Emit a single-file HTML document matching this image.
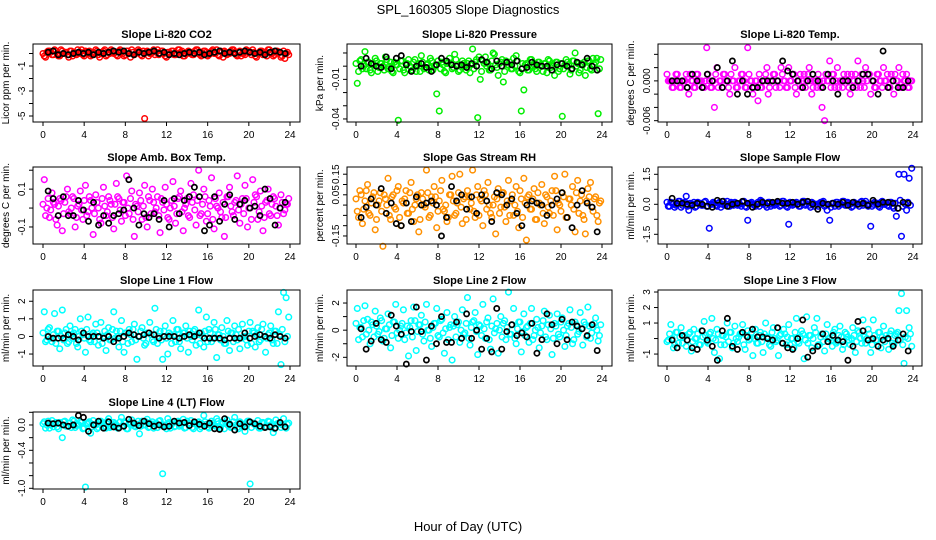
<!DOCTYPE html>
<html><head><meta charset="utf-8"><style>
html,body{margin:0;padding:0;background:#fff;}
svg{display:block;font-family:"Liberation Sans",Arial,sans-serif;}
</style></head><body>
<svg id="chart" width="936" height="540" viewBox="0 0 936 540">
<rect width="936" height="540" fill="#fff"/>
<text x="468" y="14" font-size="13" text-anchor="middle">SPL_160305  Slope Diagnostics</text>
<text x="468" y="531" font-size="13" text-anchor="middle">Hour of Day (UTC)</text>
</svg>
<script>
const xTicks = [0,4,8,12,16,20,24];
const c1 = [-0.2,0.1,0.2,-0.1,0.3,0.0,-0.2,0.2,0.1,-0.1,0.2,-0.2,0.0,0.3,0.1,-0.1,0.2,0.0,-0.2,0.1,0.3,-0.1,0.0,0.2,-0.2,0.1,0.3,0.0,-0.1,0.2,0.1,-0.2,0.2,0.0,0.3,-0.1,0.1,0.2,-0.2,-5.2,0.2,0.0,0.1,-0.1,0.3,0.0,0.2,-0.2,0.1,0.0,0.2,-0.1,0.3,0.1,-0.2,0.0,0.2,0.1,-0.1,0.3,0.0,-0.2,0.2,0.1,-0.1,0.2,0.0,0.3,-0.2,0.1,0.2,-0.1,0.0,0.3,0.1,-0.2,0.2,0.0,-0.1,0.2,0.1,0.3,-0.2,0.0,0.2,-0.1,0.1,0.3,0.0,-0.2,0.2,0.1,-0.3,0.2,0.0,-0.1];
const d1 = [0.0,-0.3,0.2,0.1,-0.1,0.2,-0.2,0.3,0.0,0.1,-0.3,0.2,0.1,-0.1,0.0,0.3,-0.2,0.1,0.2,-0.1,0.0,0.2,-0.3,0.1,0.3,-0.1,0.0,0.2,0.1,-0.2,0.3,0.0,-0.1,0.2,-0.3,0.1,0.0,0.3,-0.1,0.2,0.1,-0.2,0.0,0.3,0.1,-0.1,0.2,0.0,-0.3,0.1,0.2,-0.1,0.0,0.3,0.2,-0.2,0.1,0.0,-0.1,0.2,0.3,-0.1,0.0,0.2,-0.2,0.1,0.3,0.0,-0.1,0.2,-0.3,0.1,0.0,0.2,0.3,-0.1,0.1,-0.2,0.0,0.3,0.2,-0.1,0.1,-0.3,0.0,0.2,0.1,-0.2,0.3,0.0,-0.1,0.2,0.1,-0.2,-0.4,0.1];
const b1 = [0.1,0.2,-0.1,0.0,-0.1,0.0,0.1,0.0,0.1,-0.1,0.1,0.0,0.1,0.2,0.1,0.2,0.0,-0.1,0.1,0.0,0.1,0.2,0.0,0.1,-0.1,0.0,-0.1,0.0,0.1,0.0,0.1,-0.1,0.0,0.1,0.2,0.0,0.1,0.0,0.1,0.2,0.1,0.0,0.1,-0.1,0.1,0.2,0.1,0.0];
const c2 = [-0.013,0.004,-0.002,0.011,0.003,-0.003,0.001,0.006,-0.004,0.002,0.000,0.007,-0.002,0.003,-0.005,0.001,-0.041,0.004,-0.003,0.002,0.005,-0.001,0.003,-0.004,0.002,0.008,-0.002,0.001,-0.003,0.004,0.000,-0.021,-0.034,0.003,-0.004,0.002,0.006,-0.002,0.009,0.001,-0.003,0.004,0.000,0.002,-0.005,0.013,0.003,-0.039,-0.010,0.004,0.007,0.002,-0.003,0.010,0.001,-0.007,0.003,-0.012,0.004,0.001,-0.002,0.006,0.008,-0.004,-0.034,-0.018,0.002,-0.003,0.005,0.001,-0.004,0.003,0.000,0.002,-0.005,0.004,0.001,-0.007,0.003,-0.002,-0.038,0.001,0.003,-0.006,0.004,0.010,0.002,-0.003,0.001,-0.007,0.004,-0.002,0.006,0.003,-0.036,0.005];
const d2 = [0.002,-0.004,0.005,0.000,-0.002,0.003,-0.005,0.001,0.004,-0.001,0.002,-0.003,0.005,0.000,-0.004,0.003,0.001,-0.002,0.004,-0.005,0.002,0.000,-0.003,0.005,0.001,-0.004,0.003,-0.001,0.002,0.006,-0.003,0.000,0.004,-0.002,0.001,-0.005,0.003,0.002,-0.001,0.005,-0.004,0.000,0.002,-0.003,0.004,0.001,-0.002,0.005,0.007,-0.004,0.002,0.000,-0.003,0.004,0.009,-0.001,0.002,0.005,-0.004,0.001,0.003,-0.002,0.000,0.004,-0.005,0.002,0.001,-0.003,0.005,0.000,-0.002,0.003,0.001,-0.004,0.002,0.005,-0.001,0.000,0.003,-0.004,0.002,-0.002,0.005,0.001,-0.003,0.004,0.000,-0.005,0.002,0.003,-0.001,0.004,-0.003,0.001,0.006,-0.002];
const b2 = [0.000,0.006,0.002,0.000,-0.001,0.007,-0.002,0.006,0.008,0.001,-0.004,0.000,0.002,-0.001,-0.004,0.001,0.006,0.004,0.001,0.000,0.001,-0.001,0.002,0.000,0.005,0.003,-0.002,0.004,0.000,0.003,0.001,0.004,-0.002,-0.001,0.003,0.001,0.000,0.000,-0.003,0.001,0.002,0.000,-0.002,0.003,0.001,0.006,0.000,-0.003];
const c3 = [0,0,-0.001,0.001,0,-0.001,0,0.001,-0.002,0,-0.001,0.001,0,0,-0.001,0.005,0,-0.001,-0.004,0.002,0,-0.001,0.001,0,-0.002,0,0.002,-0.001,0,0.001,-0.001,0.005,0,-0.002,0,-0.003,-0.001,0,0.001,-0.002,0,0.001,-0.001,0,0.002,0,-0.001,0.002,0,0.001,-0.002,0,-0.001,0.001,0,0.002,-0.002,0,-0.001,0,-0.004,-0.006,0,0.003,0.001,-0.001,0.002,0,-0.001,0,0.001,-0.002,0,0.001,0.003,-0.001,0,0.002,0.001,-0.002,0,-0.001,0.001,0,0.002,0,-0.001,0.001,-0.002,0,0.002,-0.001,0,0.001,-0.001,0];
const d3 = [0.001,0,-0.001,0,0.001,-0.001,0,0,-0.001,0.001,0,-0.001,0.001,0,-0.001,0,0.001,-0.001,0,0.001,-0.001,0,0.001,0,-0.001,0.001,0,-0.001,0,0.001,0,-0.001,0.001,0,-0.001,0,0.001,-0.001,0,0.002,-0.001,0,0.001,0,-0.001,0.001,0,-0.001,0,0.001,-0.001,0,0.001,0,-0.001,0.001,0,-0.001,0,0.001,-0.001,0,0.001,0,-0.001,0.001,0,-0.001,0,0.001,0,-0.001,0.001,0,-0.001,0,0.001,-0.001,0,0.001,0,-0.001,0.001,0,-0.001,0,0.001,-0.001,0,0.001,0,-0.001,0.001,0,-0.001,0];
const b3 = [0,0,0,-0.001,0.001,0,-0.001,0.001,0,0.002,-0.001,0,0.003,-0.002,0,-0.002,-0.001,-0.001,0,0,0,0,0.003,0.0015,0.001,0,-0.001,0,0.001,0,-0.001,0.001,0,-0.002,0,0,-0.001,0,0.001,0.001,0,-0.002,0.0045,-0.001,0,-0.001,-0.001,0];
const c4 = [0.15,0.0,-0.05,0.08,0.02,-0.09,0.05,-0.12,0.03,0.1,-0.03,0.06,-0.1,0.01,0.09,-0.06,0.12,-0.02,0.04,-0.14,0.07,0.0,-0.08,0.11,-0.04,0.06,0.02,-0.11,0.13,0.05,-0.07,0.03,0.17,-0.03,0.09,-0.15,0.01,0.08,-0.06,0.12,-0.1,0.04,0.1,-0.02,0.06,-0.13,0.03,0.11,-0.05,0.0,0.14,-0.08,0.05,0.09,-0.12,0.02,-0.04,0.13,0.07,-0.09,0.2,-0.03,0.1,-0.07,0.04,0.16,-0.11,0.01,0.08,-0.05,-0.15,0.06,0.11,-0.02,0.03,0.17,-0.08,0.05,0.12,-0.1,0.0,0.15,0.07,-0.06,0.09,-0.12,0.03,0.1,-0.04,0.06,0.01,-0.09,0.07,-0.03,0.02,0.05];
const d4 = [0.02,-0.04,0.05,-0.01,0.03,-0.06,0.01,0.04,-0.03,0.06,-0.02,0.0,0.05,-0.05,0.02,-0.01,0.04,-0.04,0.06,0.0,-0.03,0.03,-0.06,0.05,0.01,-0.02,0.04,-0.05,0.02,0.06,-0.01,0.03,-0.04,0.0,0.05,-0.06,0.02,-0.02,0.04,0.01,-0.05,0.06,-0.03,0.03,0.0,-0.04,0.05,-0.01,0.02,-0.06,0.04,0.01,-0.03,0.06,-0.02,0.0,0.05,-0.05,0.03,-0.01,0.04,-0.04,0.02,0.06,-0.03,0.01,-0.06,0.05,0.0,-0.02,0.03,-0.05,0.06,0.01,-0.04,0.04,-0.01,0.02,-0.03,0.05,0.0,-0.06,0.03,0.06,-0.02,0.01,-0.05,0.04,-0.03,0.02,0.05,-0.04,0.0,0.03,-0.01,0.02];
const b4 = [0.09,0.05,-0.04,0.06,-0.04,-0.04,0.04,-0.01,-0.07,0.03,-0.09,-0.04,-0.08,-0.04,-0.03,-0.01,0.15,0.0,-0.09,-0.03,-0.05,-0.03,-0.06,0.04,-0.1,0.05,-0.03,0.04,0.06,0.11,0.06,-0.12,-0.09,0.06,-0.07,0.02,0.07,-0.06,0.02,0.04,0.0,0.01,-0.04,0.1,0.05,-0.09,0.0,0.03];
const c5 = [-0.03,0.07,-0.09,0.02,0.1,-0.05,0.04,-0.12,0.0,0.06,-0.2,0.03,0.13,-0.07,0.05,-0.02,0.09,-0.1,0.01,0.07,-0.04,0.11,-0.08,0.03,-0.13,0.06,0.0,0.17,-0.06,0.04,0.09,-0.11,0.02,0.12,-0.03,-0.08,0.05,0.14,-0.05,0.01,0.15,-0.09,0.04,0.07,-0.02,0.17,-0.06,0.09,0.03,-0.1,0.05,0.11,-0.04,0.0,-0.14,0.08,-0.01,0.06,-0.08,0.12,0.02,-0.05,0.09,-0.11,0.03,0.13,-0.17,0.05,-0.02,0.08,-0.07,0.01,0.1,-0.09,0.04,-0.04,0.07,0.14,-0.12,0.0,0.06,0.15,-0.06,0.03,0.09,-0.13,0.12,0.02,-0.05,-0.14,0.08,0.11,-0.03,0.04,-0.08,0.02];
const d5 = [0.03,-0.06,0.05,-0.02,0.07,-0.04,0.01,0.06,-0.07,0.02,-0.03,0.05,0.0,-0.05,0.04,-0.01,0.07,-0.06,0.02,0.03,-0.04,0.06,-0.02,0.0,0.05,-0.07,0.03,-0.01,0.06,-0.05,0.01,0.04,-0.03,0.07,-0.02,0.0,-0.06,0.05,0.02,-0.04,0.06,-0.01,0.03,-0.07,0.04,0.01,-0.03,0.05,-0.05,0.02,0.07,-0.02,0.0,-0.06,0.04,0.03,-0.04,0.06,-0.01,0.02,-0.05,0.05,0.0,-0.03,0.07,-0.06,0.01,0.04,-0.02,0.03,-0.07,0.06,0.0,-0.04,0.05,-0.01,0.02,-0.05,0.07,0.01,-0.03,0.04,-0.06,0.03,0.0,-0.02,0.06,-0.04,0.05,-0.07,0.02,0.04,-0.01,0.03,-0.05,0.01];
const b5 = [-0.06,-0.01,0.03,0.0,0.08,-0.04,0.01,-0.09,-0.1,0.01,-0.08,0.04,0.0,0.01,0.02,0.0,-0.15,-0.06,0.09,0.02,0.05,-0.02,0.04,-0.04,0.05,0.02,-0.08,0.06,0.05,0.0,0.03,-0.04,-0.1,0.0,0.02,0.01,0.0,-0.05,0.0,0.03,0.06,-0.06,-0.11,0.0,0.07,0.01,-0.01,-0.13];
const c6 = [-0.1,0.1,0.0,-0.05,0.15,-0.15,0.05,0.4,-0.3,0.0,0.1,-0.1,0.05,-0.05,0.1,-0.1,-1.2,0.0,0.05,-0.1,0.1,0.0,-0.05,0.15,-0.1,0.05,0.1,-0.05,0.0,0.1,-0.1,-0.8,0.05,0.0,-0.1,0.1,0.2,0.0,-0.05,0.1,-0.1,0.05,0.0,0.1,-0.05,0.15,-0.1,-1.0,0.05,0.0,0.1,-0.1,0.05,0.15,0.0,-0.05,0.1,-0.1,0.0,0.05,0.1,-0.1,-0.3,-0.8,0.05,-0.1,0.1,0.0,0.15,-0.05,0.1,0.0,-0.1,0.05,0.0,0.1,-0.05,0.15,-0.1,-1.1,0.0,0.05,-0.1,0.1,0.0,0.05,-0.1,0.1,-0.2,-0.6,1.5,-1.6,1.5,-0.3,1.3,1.8];
const d6 = [0.1,-0.1,0.05,-0.15,0.0,0.15,-0.05,0.1,-0.1,0.05,0.0,-0.15,0.1,0.05,-0.05,0.15,-0.1,0.0,0.1,-0.05,0.05,-0.15,0.15,0.0,-0.1,0.1,-0.05,0.05,0.0,-0.1,0.15,-0.15,0.05,0.1,-0.05,0.0,-0.1,0.15,0.05,-0.15,0.1,0.0,-0.05,0.05,-0.1,0.15,0.0,-0.15,0.1,-0.05,0.05,0.0,-0.1,0.15,-0.05,0.1,-0.15,0.05,0.0,-0.1,0.1,0.15,-0.05,0.0,-0.15,0.05,0.1,-0.1,0.0,0.15,-0.05,0.05,-0.15,0.1,0.0,-0.1,0.15,0.05,-0.05,0.0,-0.1,0.1,0.05,-0.15,0.15,0.0,-0.05,0.1,-0.1,0.05,-0.2,0.2,-0.1,0.0,0.1,-0.05];
const b6 = [0.3,0.05,0.05,0.0,-0.05,0.05,0.0,-0.1,-0.15,0.2,0.15,-0.1,0.0,0.05,0.15,0.05,-0.15,0.0,0.1,0.05,0.1,0.15,0.05,0.05,0.1,0.0,0.1,0.15,0.0,-0.25,0.05,0.0,0.05,0.0,0.1,-0.05,0.1,0.0,0.05,-0.05,0.2,0.0,0.1,0.1,0.05,-0.2,0.1,0.05];
const c7 = [1.4,-0.2,0.5,-0.3,1.3,0.3,-0.7,1.5,0.2,-0.4,0.6,-0.1,0.4,-0.6,1.0,0.1,-0.9,1.1,-0.3,0.2,0.7,-0.5,0.8,0.0,-0.8,0.5,-0.2,1.4,0.3,-0.6,0.9,-0.9,0.2,0.4,-0.3,0.7,-1.3,0.0,0.5,-0.5,0.2,0.8,-0.2,1.6,-0.4,0.3,-1.3,0.6,-1.0,0.1,0.9,-0.3,0.4,-0.7,0.2,0.6,-0.9,0.0,0.3,-0.5,1.5,0.2,-0.6,1.1,0.4,-0.3,0.8,-1.2,0.1,0.5,-0.4,0.9,-0.8,0.2,0.6,-0.2,-0.7,0.7,0.0,-0.5,0.8,0.3,-0.6,0.5,-0.2,0.7,-0.9,0.1,0.6,-0.4,0.3,1.4,-1.6,2.5,2.2,1.1];
const d7 = [0.2,-0.3,0.4,-0.1,0.1,-0.4,0.3,0.0,-0.2,0.4,-0.3,0.1,0.2,-0.4,0.0,0.3,-0.1,0.4,-0.2,0.1,-0.3,0.2,0.0,-0.4,0.3,0.1,-0.2,0.4,-0.1,0.0,0.3,-0.3,0.2,-0.4,0.1,0.4,-0.2,0.0,0.3,-0.1,-0.4,0.2,0.1,-0.3,0.4,0.0,-0.2,0.3,-0.1,0.2,-0.4,0.1,0.4,-0.3,0.0,0.2,-0.1,0.3,-0.2,0.4,0.1,-0.4,0.0,0.3,-0.3,0.2,-0.1,0.4,0.1,-0.2,0.0,-0.4,0.3,0.2,-0.3,0.1,0.4,-0.1,0.0,-0.2,0.3,-0.4,0.2,0.1,-0.3,0.4,0.0,-0.1,0.2,-0.2,0.3,-0.4,0.1,0.4,-0.3,0.0];
const b7 = [0.0,-0.1,-0.1,-0.1,0.1,0.0,-0.2,0.2,0.0,0.0,0.0,-0.1,0.0,-0.3,-0.1,0.0,0.2,0.1,0.0,0.1,0.2,0.1,-0.1,0.0,0.0,0.0,-0.1,0.0,0.1,0.0,0.2,-0.1,-0.1,-0.1,-0.1,-0.2,-0.1,-0.1,-0.1,0.2,-0.1,0.0,0.1,0.0,-0.1,0.1,0.0,-0.1];
const c8 = [1.6,0.2,-0.5,1.8,0.8,-1.0,0.4,1.4,-0.3,0.9,-0.8,0.1,1.2,-1.3,0.6,1.9,-0.6,0.3,1.5,-0.2,-1.9,0.7,1.7,-1.5,0.4,1.1,-0.8,1.9,0.0,-1.2,0.5,1.6,-0.5,0.8,-1.7,1.3,0.2,-2.2,1.0,0.4,-0.9,1.5,-0.2,2.4,-1.1,0.6,1.3,-1.8,0.3,1.9,-0.6,0.9,-1.4,2.3,0.1,-1.7,1.0,0.5,-0.7,2.8,-0.3,1.6,-1.0,0.6,-1.6,1.2,0.2,-0.9,1.6,-0.4,0.8,-1.3,0.3,1.4,-0.7,1.1,-1.8,0.5,1.2,-0.5,0.9,-1.2,0.3,1.5,-1.0,0.6,-0.3,1.3,-1.1,0.4,1.7,-0.6,0.2,0.9,-0.8,0.4];
const d8 = [0.5,-0.7,0.2,0.7,-0.3,0.0,0.6,-0.5,0.3,-0.1,0.7,-0.6,0.1,0.4,-0.4,0.6,-0.2,0.0,0.5,-0.7,0.3,0.2,-0.5,0.7,-0.1,0.4,-0.3,0.6,0.0,-0.6,0.2,0.5,-0.4,0.7,-0.2,0.1,-0.7,0.4,0.3,-0.5,0.6,0.0,-0.3,0.5,-0.6,0.2,0.7,-0.1,0.4,-0.4,0.1,0.6,-0.7,0.3,-0.2,0.5,0.0,-0.5,0.7,0.2,-0.3,0.4,-0.6,0.1,0.6,-0.1,-0.4,0.3,0.5,-0.7,0.0,0.2,-0.2,0.7,-0.5,0.4,0.1,-0.6,0.3,-0.3,0.6,0.0,-0.4,0.5,0.2,-0.7,0.4,-0.1,0.1,0.6,-0.5,0.3,-0.2,0.5,0.0,-0.4];
const b8 = [0.1,-1.4,-0.8,0.5,-0.7,-0.9,1.1,0.3,-0.3,-2.5,-0.1,1.7,-0.1,-2.2,0.3,-1.0,1.0,-0.9,-0.9,0.6,-0.6,1.2,-0.6,0.0,-1.4,-0.6,-1.6,1.6,-1.4,-0.1,0.4,-0.4,-0.2,-0.5,0.5,-1.7,-0.7,1.2,0.4,-1.0,0.8,-0.7,0.6,0.3,0.1,-0.4,0.4,-1.5];
const c9 = [-0.1,0.9,-0.6,0.4,-0.3,0.7,0.1,-0.5,0.3,-0.8,0.6,0.0,-0.4,0.5,1.1,-0.2,0.3,1.3,-0.9,0.6,-1.3,0.2,-0.4,1.0,0.4,-0.6,0.8,-0.2,0.3,0.9,-0.7,0.5,0.0,-1.1,0.6,-0.3,0.4,-0.9,1.0,0.1,-0.5,0.7,-0.2,-1.1,0.3,0.6,-0.4,0.9,0.0,-0.6,1.3,-0.3,0.5,-1.3,1.4,0.2,-0.6,0.7,1.3,-0.4,0.3,-0.8,0.9,0.0,-0.5,0.6,-0.2,0.8,-0.7,0.4,0.1,-0.4,0.7,-0.9,0.5,0.0,1.2,-0.3,0.6,-0.9,1.2,-0.1,0.4,-0.6,0.8,0.2,-0.7,0.5,-0.4,0.3,1.8,2.9,-1.6,1.8,0.7,-0.5];
const d9 = [-0.2,0.3,0.0,-0.4,0.4,0.1,-0.3,0.2,-0.1,0.4,-0.2,0.0,0.3,-0.4,0.1,0.2,-0.3,0.4,0.0,-0.1,0.3,-0.4,0.2,0.1,-0.2,0.4,-0.3,0.0,0.1,0.3,-0.4,0.2,-0.1,0.4,0.0,-0.3,0.2,-0.2,0.3,0.1,-0.4,0.4,0.0,-0.1,0.2,-0.3,0.3,0.1,-0.4,0.0,0.4,-0.2,0.1,0.3,-0.1,-0.3,0.2,0.0,0.4,-0.4,0.1,-0.2,0.3,0.0,-0.1,0.4,-0.3,0.2,0.1,-0.4,0.3,-0.1,0.0,0.2,-0.2,0.4,-0.3,0.1,0.0,0.3,-0.4,0.2,-0.1,0.4,0.1,-0.2,0.0,0.3,-0.3,0.2,0.4,-0.1,-0.4,0.1,0.0,0.3];
const b9 = [-0.1,-0.6,0.2,-0.1,-0.6,-0.7,0.5,-0.1,-0.5,-1.4,0.5,1.3,-0.5,-0.7,0.4,0.1,0.6,0.1,0.1,0.0,-0.1,0.7,-0.3,-0.6,-0.7,0.0,1.2,-1.2,-0.8,-0.5,0.3,-0.2,0.2,-0.1,-0.2,-1.4,-0.5,1.1,0.5,-0.1,0.0,-0.5,-0.1,0.0,-0.5,-0.1,0.3,-0.8];
const c10 = [0.05,0.0,-0.05,0.07,0.02,-0.03,0.04,-0.2,0.06,-0.02,0.03,0.08,-0.04,0.01,0.05,-0.06,-0.98,0.03,-0.13,0.07,0.0,-0.04,0.06,0.02,-0.05,0.1,-0.02,0.04,0.0,-0.03,0.12,0.05,-0.06,0.03,0.08,-0.02,0.01,-0.14,0.06,0.0,0.09,-0.03,0.05,0.02,-0.04,0.07,-0.77,0.0,0.1,-0.05,0.04,-0.02,0.06,0.0,0.09,-0.04,0.03,0.07,-0.06,0.02,0.05,-0.03,0.15,0.01,-0.05,0.06,0.0,0.1,-0.02,0.04,-0.06,0.08,0.02,-0.03,0.12,-0.04,0.05,0.0,-0.1,0.06,-0.93,0.03,0.0,0.07,-0.05,0.04,-0.03,0.06,0.0,-0.12,0.08,0.02,-0.04,0.1,-0.05,0.03];
const d10 = [0.02,-0.05,0.06,0.0,-0.03,0.04,-0.06,0.01,0.05,-0.02,0.03,-0.04,0.06,-0.01,0.0,0.04,-0.05,0.02,0.05,-0.03,0.01,-0.06,0.04,0.03,-0.02,0.06,-0.04,0.0,0.02,-0.05,0.05,-0.01,0.03,-0.06,0.04,0.01,-0.03,0.06,-0.02,0.0,0.05,-0.04,0.02,-0.05,0.03,0.06,-0.01,0.0,-0.06,0.04,0.01,-0.03,0.05,-0.02,0.03,-0.05,0.06,0.0,-0.04,0.02,0.04,-0.06,0.01,0.05,-0.03,0.0,0.03,-0.02,0.06,-0.05,0.02,0.04,-0.01,-0.04,0.05,0.0,-0.06,0.03,0.01,-0.02,0.06,-0.04,0.02,0.0,-0.05,0.04,0.03,-0.03,0.05,-0.01,-0.06,0.02,0.04,0.0,-0.03,0.01];
const b10 = [0.03,0.02,0.03,0.0,-0.02,0.0,0.15,0.12,-0.1,0.0,0.06,-0.05,0.05,-0.03,-0.05,-0.02,0.09,0.03,-0.01,0.06,0.02,-0.02,0.0,-0.03,-0.02,0.06,0.03,0.04,-0.01,0.05,0.01,-0.02,0.03,-0.06,-0.07,0.1,0.01,-0.08,0.02,-0.03,0.05,0.02,-0.02,-0.04,-0.03,-0.05,0.04,-0.03];

const titles = ["Slope Li-820 CO2","Slope Li-820 Pressure","Slope Li-820 Temp.","Slope Amb. Box Temp.","Slope Gas Stream RH","Slope Sample Flow","Slope Line 1 Flow","Slope Line 2 Flow","Slope Line 3 Flow","Slope Line 4 (LT) Flow"];
const yLabels = ["Licor ppm per min.","kPa per min.","degrees C per min.","degrees C per min.","percent per min.","ml/min per min.","ml/min per min.","ml/min per min.","ml/min per min.","ml/min per min."];
const yTicks = [[0,-1,-2,-3,-4,-5],[0.01,0,-0.01,-0.02,-0.03,-0.04],[0.004,0.002,0,-0.002,-0.004,-0.006],[0.2,0.1,0,-0.1],[0.15,0.1,0.05,0,-0.05,-0.1,-0.15],[1.5,0.75,0,-0.75,-1.5],[2,1,0,-1],[2,1,0,-1,-2],[3,2,1,0,-1],[0.2,0,-0.2,-0.4,-0.6,-0.8,-1.0]];
const yTickText = [["","-1","","-3","","-5"],["","","-0.01","","","-0.04"],["","","0.000","","","-0.006"],["","0.1","","-0.1"],["0.15","","0.05","","","","-0.15"],["1.5","","0.0","","-1.5"],["2","1","0","-1"],["2","","0","","-2"],["3","2","1","","-1"],["","0.0","","-0.4","","","-1.0"]];
const yRange = [[-5.48,0.76],[-0.0423,0.0168],[-0.0062,0.00556],[-0.19,0.217],[-0.189,0.185],[-1.985,1.865],[-1.68,2.64],[-2.64,2.96],[-1.77,3.13],[-1.011,0.205]];
const colors = ["#ff0000","#00ee00","#ff00ff","#ff00ff","#ff9000","#0000ff","#00ffff","#00ffff","#00ffff","#00ffff"];
const colSeries = [c1,c2,c3,c4,c5,c6,c7,c8,c9,c10];
const denseSeries = [d1,d2,d3,d4,d5,d6,d7,d8,d9,d10];
const blkSeries = [b1,b2,b3,b4,b5,b6,b7,b8,b9,b10];
const names = ["co2","pressure","li820-temp","box-temp","gas-rh","sample-flow","line1-flow","line2-flow","line3-flow","line4-flow"];

const NS = "http://www.w3.org/2000/svg";
const svg = document.getElementById("chart");
const colBox = [[33,300,43,290],[347,612,356,602],[658,922,667,913]];
const rowBox = [[44,122],[167,244],[290,366],[412,489]];
function mk(tag, attrs, parent){const e=document.createElementNS(NS,tag);for(const k in attrs)e.setAttribute(k,attrs[k]);parent.appendChild(e);return e;}

for (let p=0;p<10;p++){
  const col=p%3, row=Math.floor(p/3);
  const [L,R,X0,X24]=colBox[col]; const [T,B]=rowBox[row];
  const [ymin,ymax]=yRange[p];
  const xs = h => X0 + (h/24)*(X24-X0);
  const ys = v => B - (v-ymin)/(ymax-ymin)*(B-T);
  const g = mk("g",{},svg);
  
  
  const t = mk("text",{x:(L+R)/2,y:T-6,"font-size":11,"font-weight":"bold","text-anchor":"middle"},g);
  t.textContent = titles[p];
  
  
  const yl = mk("text",{x:0,y:0,"font-size":10,"text-anchor":"middle",transform:`translate(${L-24},${(T+B)/2}) rotate(-90)`},g);
  yl.textContent = yLabels[p];
  
  
  const ds = denseSeries[p], m = ds.length;
  for (let i=0;i<m;i++){
    const c = mk("circle",{cx:xs(i*24/m),cy:ys(ds[i]),r:2.8,fill:"none",stroke:colors[p],"stroke-width":1.5},g);
    
    
  }
  const cs = colSeries[p], n = cs.length;
  for (let i=0;i<n;i++){
    const c = mk("circle",{cx:xs((i+0.5)*24/n),cy:ys(cs[i]),r:2.8,fill:"none",stroke:colors[p],"stroke-width":1.5},g);
    
    
  }
  const bs = blkSeries[p];
  for (let i=0;i<bs.length;i++){
    const c = mk("circle",{cx:xs(0.5+i*0.49),cy:ys(bs[i]),r:2.6,fill:"none",stroke:"#000","stroke-width":1.7},g);
    
    
  }
  const box = mk("rect",{x:L,y:T,width:R-L,height:B-T,fill:"none",stroke:"#000","stroke-width":1},g);
  
  
  xTicks.forEach(h=>{
    mk("line",{x1:xs(h),x2:xs(h),y1:B,y2:B+4,stroke:"#000"},g);
    const tl = mk("text",{x:xs(h),y:B+16,"font-size":10,"text-anchor":"middle"},g);
    tl.textContent = h;
    
    
  });
  yTicks[p].forEach((v,k)=>{
    mk("line",{x1:L,x2:L-4,y1:ys(v),y2:ys(v),stroke:"#000"},g);
    const s = yTickText[p][k];
    if (s!==""){
      const tl = mk("text",{x:0,y:0,"font-size":10,"text-anchor":"middle",transform:`translate(${L-8},${ys(v)}) rotate(-90)`},g);
      tl.textContent = s;
      
      
    }
  });
}
</script>
</body></html>
